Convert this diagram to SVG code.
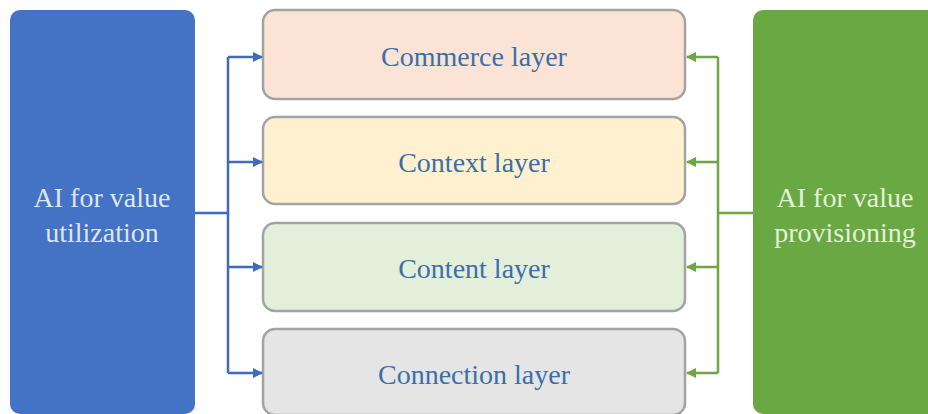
<svg xmlns="http://www.w3.org/2000/svg" width="928" height="414" viewBox="0 0 928 414">
  <defs>
    <style>
      .side { stroke: none; }
      .layer { stroke: #a3a3a3; stroke-width: 2.5; }
      .layer-text { font-family: "Liberation Serif", "Times New Roman", serif; font-size: 28px; fill: #3a6fa8; text-anchor: middle; }
      .side-text { font-family: "Liberation Serif", "Times New Roman", serif; font-size: 28px; text-anchor: middle; }
      .blue-line { fill: none; stroke: #4169c0; stroke-width: 2.5; }
      .green-line { fill: none; stroke: #6ea545; stroke-width: 2.5; }
    </style>
    <marker id="arrow-blue" viewBox="0 0 10 10" refX="9" refY="5" markerWidth="4" markerHeight="4" orient="auto">
      <path d="M0,0 L10,5 L0,10 Z" fill="#4169c0"/>
    </marker>
    <marker id="arrow-green" viewBox="0 0 10 10" refX="9" refY="5" markerWidth="4" markerHeight="4" orient="auto">
      <path d="M0,0 L10,5 L0,10 Z" fill="#6ea545"/>
    </marker>
  </defs>

  <rect width="928" height="414" fill="#ffffff"/>

  <!-- Left side: value utilization -->
  <g id="ai-value-utilization">
    <rect class="side" x="10" y="10" width="185" height="404" rx="10" fill="#4472c4"/>
    <text class="side-text" x="102" y="207" fill="#dde6f5">AI for value</text>
    <text class="side-text" x="102" y="242" fill="#dde6f5">utilization</text>
  </g>

  <!-- Right side: value provisioning -->
  <g id="ai-value-provisioning">
    <rect class="side" x="753" y="10" width="190" height="404" rx="10" fill="#6aa843"/>
    <text class="side-text" x="845" y="207" fill="#e3f1d8">AI for value</text>
    <text class="side-text" x="845" y="242" fill="#e3f1d8">provisioning</text>
  </g>

  <!-- Layer stack -->
  <g id="commerce-layer">
    <rect class="layer" x="263" y="10" width="422" height="89" rx="12" fill="#fbe4d5"/>
    <text class="layer-text" x="474" y="66">Commerce layer</text>
  </g>
  <g id="context-layer">
    <rect class="layer" x="263" y="117" width="422" height="87" rx="12" fill="#fff1d0"/>
    <text class="layer-text" x="474" y="172">Context layer</text>
  </g>
  <g id="content-layer">
    <rect class="layer" x="263" y="223" width="422" height="88" rx="12" fill="#e3eedb"/>
    <text class="layer-text" x="474" y="278">Content layer</text>
  </g>
  <g id="connection-layer">
    <rect class="layer" x="263" y="329" width="422" height="86" rx="12" fill="#e5e5e5"/>
    <text class="layer-text" x="474" y="384">Connection layer</text>
  </g>

  <!-- Connectors -->
  <g id="connectors">
    <!-- utilization trunk and branches -->
    <path class="blue-line" d="M195,213 H228"/>
    <path class="blue-line" d="M228,57 V373"/>
    <path class="blue-line" d="M228,57 H262" marker-end="url(#arrow-blue)"/>
    <path class="blue-line" d="M228,162 H262" marker-end="url(#arrow-blue)"/>
    <path class="blue-line" d="M228,267 H262" marker-end="url(#arrow-blue)"/>
    <path class="blue-line" d="M228,373 H262" marker-end="url(#arrow-blue)"/>
    <!-- provisioning trunk and branches -->
    <path class="green-line" d="M753,213 H718"/>
    <path class="green-line" d="M718,57 V373"/>
    <path class="green-line" d="M718,57 H687" marker-end="url(#arrow-green)"/>
    <path class="green-line" d="M718,162 H687" marker-end="url(#arrow-green)"/>
    <path class="green-line" d="M718,267 H687" marker-end="url(#arrow-green)"/>
    <path class="green-line" d="M718,373 H687" marker-end="url(#arrow-green)"/>
  </g>
</svg>
